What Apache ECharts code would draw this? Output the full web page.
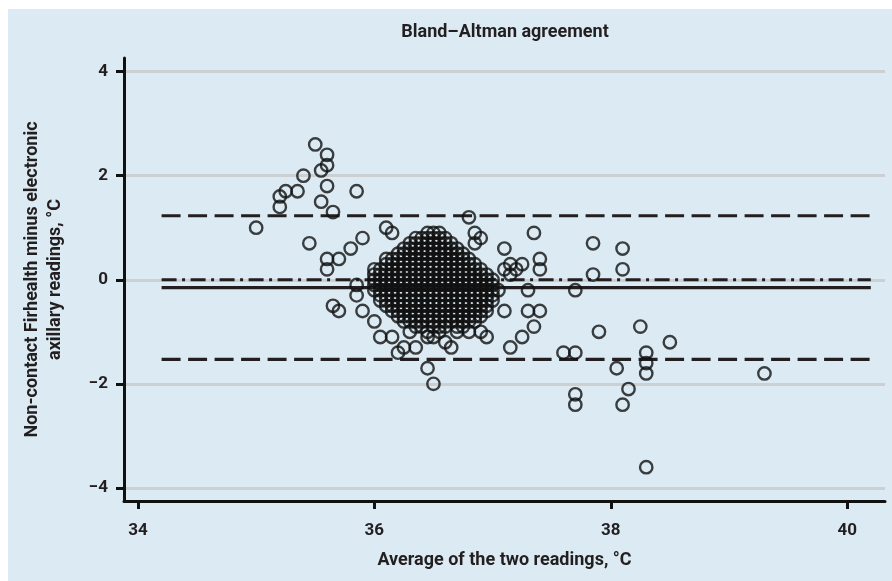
<!DOCTYPE html>
<html>
<head>
<meta charset="utf-8">
<script src="https://cdn.jsdelivr.net/npm/echarts@6/dist/echarts.min.js"></script>
<style>html,body{margin:0;padding:0;background:#fff}#c{width:892px;height:581px}</style>
</head>
<body>
<div id="c"></div>
<script>
const titleText = 'Bland–Altman agreement';
const xName = 'Average of the two readings, °C';
const yName = 'Non-contact Firhealth minus electronic\naxillary readings, °C';
const xTicks = [34, 36, 38, 40];
const yTicks = [-4, -2, 0, 2, 4];
const meanDiff = -0.15;
const upperLoA = 1.23;
const lowerLoA = -1.53;
const zeroRef = 0;
const refSpan = [34.2, 40.2];

// dense central cluster: [difference, [averages...]]
const clusterRows = [
  [0.9, [36.45, 36.5, 36.55]],
  [0.8, [36.35, 36.4, 36.45, 36.5, 36.55, 36.6]],
  [0.7, [36.3, 36.35, 36.4, 36.45, 36.5, 36.55, 36.6, 36.65]],
  [0.6, [36.25, 36.3, 36.35, 36.4, 36.45, 36.5, 36.55, 36.6, 36.65, 36.7]],
  [0.5, [36.2, 36.25, 36.3, 36.35, 36.4, 36.45, 36.5, 36.55, 36.6, 36.65, 36.7, 36.75]],
  [0.4, [36.15, 36.2, 36.25, 36.3, 36.35, 36.4, 36.45, 36.5, 36.55, 36.6, 36.65, 36.7, 36.75, 36.8]],
  [0.3, [36.1, 36.15, 36.2, 36.25, 36.3, 36.35, 36.4, 36.45, 36.5, 36.55, 36.6, 36.65, 36.7, 36.75, 36.8, 36.85]],
  [0.2, [36.05, 36.1, 36.15, 36.2, 36.25, 36.3, 36.35, 36.4, 36.45, 36.5, 36.55, 36.6, 36.65, 36.7, 36.75, 36.8, 36.85, 36.9]],
  [0.1, [36.0, 36.05, 36.1, 36.15, 36.2, 36.25, 36.3, 36.35, 36.4, 36.45, 36.5, 36.55, 36.6, 36.65, 36.7, 36.75, 36.8, 36.85, 36.9, 36.95]],
  [0.0, [36.0, 36.05, 36.1, 36.15, 36.2, 36.25, 36.3, 36.35, 36.4, 36.45, 36.5, 36.55, 36.6, 36.65, 36.7, 36.75, 36.8, 36.85, 36.9, 36.95, 37.0]],
  [-0.1, [36.0, 36.05, 36.1, 36.15, 36.2, 36.25, 36.3, 36.35, 36.4, 36.45, 36.5, 36.55, 36.6, 36.65, 36.7, 36.75, 36.8, 36.85, 36.9, 36.95, 37.0]],
  [-0.2, [36.05, 36.1, 36.15, 36.2, 36.25, 36.3, 36.35, 36.4, 36.45, 36.5, 36.55, 36.6, 36.65, 36.7, 36.75, 36.8, 36.85, 36.9, 36.95, 37.0, 37.05]],
  [-0.3, [36.05, 36.1, 36.15, 36.2, 36.25, 36.3, 36.35, 36.4, 36.45, 36.5, 36.55, 36.6, 36.65, 36.7, 36.75, 36.8, 36.85, 36.9, 36.95, 37.0]],
  [-0.4, [36.05, 36.1, 36.15, 36.2, 36.25, 36.3, 36.35, 36.4, 36.45, 36.5, 36.55, 36.6, 36.65, 36.7, 36.75, 36.8, 36.85, 36.9, 36.95, 37.0]],
  [-0.5, [36.1, 36.15, 36.2, 36.25, 36.3, 36.35, 36.4, 36.45, 36.5, 36.55, 36.6, 36.65, 36.7, 36.75, 36.8, 36.85, 36.9, 36.95]],
  [-0.6, [36.15, 36.2, 36.25, 36.3, 36.35, 36.4, 36.45, 36.5, 36.55, 36.6, 36.65, 36.7, 36.75, 36.8, 36.85, 36.9, 36.95]],
  [-0.7, [36.2, 36.25, 36.3, 36.35, 36.4, 36.45, 36.5, 36.55, 36.6, 36.65, 36.7, 36.75, 36.8, 36.85, 36.9]],
  [-0.8, [36.25, 36.3, 36.35, 36.4, 36.45, 36.5, 36.55, 36.6, 36.65, 36.7, 36.75, 36.8, 36.85]],
  [-0.9, [36.35, 36.4, 36.5, 36.6, 36.7, 36.75]],
  [-1.0, [36.3, 36.45, 36.55, 36.7, 36.8, 36.9]]
];

// scattered points: [average, difference]
const sparsePoints = [
  [35.5, 2.6], [35.6, 2.4], [35.6, 2.2], [35.55, 2.1], [35.4, 2.0], [35.6, 1.8],
  [35.85, 1.7], [35.35, 1.7], [35.25, 1.7], [35.2, 1.6], [35.2, 1.4], [35.55, 1.5],
  [35.65, 1.3], [35.0, 1.0], [35.45, 0.7], [35.9, 0.8], [35.8, 0.6], [35.7, 0.4],
  [35.6, 0.4], [35.6, 0.2], [36.1, 1.0], [36.15, 0.9], [36.1, 0.4],
  [35.85, -0.1], [35.85, -0.3], [35.65, -0.5], [35.7, -0.6], [35.9, -0.6],
  [36.0, 0.2], [36.0, -0.2], [36.0, -0.8],
  [36.05, -1.1], [36.15, -1.1], [36.2, -1.4], [36.25, -1.3], [36.35, -1.3],
  [36.45, -1.7], [36.5, -2.0], [36.45, -1.1], [36.5, -1.1], [36.6, -1.2], [36.65, -1.3],
  [36.95, -1.1], [36.55, -0.9],
  [36.8, 1.2], [36.85, 0.9], [36.9, 0.8], [36.85, 0.7],
  [37.35, 0.9], [37.1, 0.6], [37.4, 0.4], [37.4, 0.2], [37.15, 0.3], [37.25, 0.3],
  [37.2, 0.2], [37.1, 0.2], [37.15, 0.1], [37.3, -0.2], [37.3, -0.6], [37.4, -0.6],
  [37.35, -0.9], [37.25, -1.1], [37.15, -1.3], [37.1, -0.6],
  [37.7, -0.2], [37.85, 0.7], [37.85, 0.1], [38.1, 0.6], [38.1, 0.2], [37.9, -1.0],
  [38.25, -0.9], [38.5, -1.2], [37.6, -1.4], [37.7, -1.4], [38.3, -1.4], [38.3, -1.6],
  [38.3, -1.8], [38.05, -1.7], [38.15, -2.1], [38.1, -2.4], [37.7, -2.2], [37.7, -2.4],
  [39.3, -1.8], [38.3, -3.6]
];

const points = [];
clusterRows.forEach(r => r[1].forEach(x => points.push([x, r[0]])));
sparsePoints.forEach(p => points.push(p));

const ink = '#231f20';
const textStyle = { fontFamily: 'Roboto', fontWeight: 'bold', color: ink };
function refLine(v, type) {
  return {
    type: 'line', data: [[refSpan[0], v], [refSpan[1], v]], symbol: 'none', silent: true, z: 3,
    lineStyle: { color: ink, width: 3.2, type: type }
  };
}

const chart = echarts.init(document.getElementById('c'), null, { renderer: 'canvas' });
chart.setOption({
  animation: false,
  backgroundColor: '#dcebf3',
  graphic: [
    { type: 'rect', shape: { x: 0, y: 0, width: 892, height: 9 }, style: { fill: '#fff' }, silent: true },
    { type: 'rect', shape: { x: 0, y: 0, width: 8, height: 581 }, style: { fill: '#fff' }, silent: true },
    { type: 'text', x: 505, y: 32, style: { text: titleText, align: 'center', verticalAlign: 'middle',
      font: 'bold 18px Roboto', fill: ink } }
  ],
  grid: { left: 124, right: 7, top: 58, bottom: 80 },
  xAxis: {
    type: 'value', min: 33.882, max: 40.32,
    name: xName, nameLocation: 'middle', nameGap: 50,
    nameTextStyle: Object.assign({ fontSize: 18 }, textStyle),
    axisLine: { onZero: false, lineStyle: { color: '#111', width: 3 } },
    axisTick: { customValues: xTicks, length: 8, lineStyle: { color: '#111', width: 3 } },
    axisLabel: Object.assign({ customValues: xTicks, margin: 21, fontSize: 17 }, textStyle),
    splitLine: { show: false }
  },
  yAxis: {
    type: 'value', min: -4.25, max: 4.26,
    name: yName, nameLocation: 'middle', nameGap: 57, nameRotate: 90,
    nameTextStyle: Object.assign({ fontSize: 18, lineHeight: 23 }, textStyle),
    axisLine: { onZero: false, lineStyle: { color: '#111', width: 3 } },
    axisTick: { customValues: yTicks, length: 8, lineStyle: { color: '#111', width: 3 } },
    axisLabel: Object.assign({ customValues: yTicks, margin: 16, fontSize: 17,
      formatter: v => v < 0 ? '−' + Math.abs(v) : String(v) }, textStyle),
    splitLine: { show: true, lineStyle: { color: '#cdd0d3', width: 3 } }
  },
  series: [
    refLine(upperLoA, [19, 7.5]),
    refLine(lowerLoA, [19, 7.5]),
    refLine(zeroRef, [15, 5.5, 3, 5.5]),
    refLine(meanDiff, 'solid'),
    {
      type: 'scatter', data: points, symbol: 'circle', symbolSize: 12.4, z: 4, silent: true,
      itemStyle: { color: 'rgba(0,0,0,0)', borderColor: '#111', borderWidth: 2.4 }
    }
  ]
});
</script>
</body>
</html>
